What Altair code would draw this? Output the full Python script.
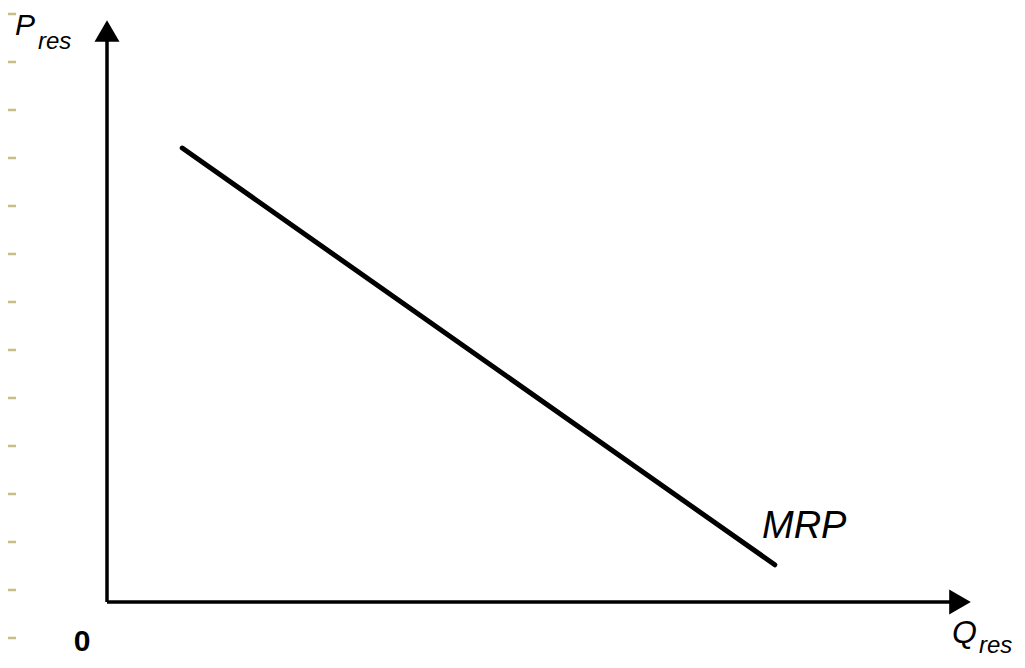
import altair as alt
import pandas as pd

# --- values (data units: origin = 0, arrow tips = 10) ---
mrp_q = [0.87, 7.72]
mrp_p = [7.80, 0.64]

axis_len_x = 9.8
axis_len_y = 9.74

# decorative slide ticks at the left edge (page y positions)
tick_rows = [14, 62, 110, 158, 206, 254, 302, 350, 398, 446, 494, 542, 590, 638]

# --- page layout helpers ---
W, H = 1009, 652
OX, OY = 107, 602          # origin in page px
SX, SY = 86.5, 58.2        # px per data unit


def dx(px):
    return (px - OX) / SX


def dy(py):
    return (OY - py) / SY


xs = alt.Scale(domain=[dx(8), dx(8 + W)], nice=False, zero=False)
ys = alt.Scale(domain=[dy(8 + H), dy(8)], nice=False, zero=False)

X = lambda f: alt.X(f, type="quantitative", scale=xs, axis=None)
Y = lambda f: alt.Y(f, type="quantitative", scale=ys, axis=None)

mrp_df = pd.DataFrame({"q": mrp_q, "p": mrp_p})
mrp = alt.Chart(mrp_df).mark_line(color="black", strokeWidth=5, strokeCap="round").encode(
    x=X("q"), y=Y("p")
)

axes_df = pd.DataFrame({
    "x1": [0, 0], "y1": [0, 0],
    "x2": [axis_len_x, 0], "y2": [0, axis_len_y],
})
axes = alt.Chart(axes_df).mark_rule(color="black", strokeWidth=3.5).encode(
    x=X("x1"), y=Y("y1"), x2="x2", y2="y2"
)

arrows_df = pd.DataFrame({
    "x": [0, 10 - 12 / SX],
    "y": [10 - 11 / SY, 0],
    "shape": ["triangle-up", "triangle-right"],
})
arrows = alt.Chart(arrows_df).mark_point(filled=True, color="black", opacity=1, size=625).encode(
    x=X("x"), y=Y("y"), shape=alt.Shape("shape:N", scale=None, legend=None)
)

ticks_df = pd.DataFrame({
    "x1": [dx(8)] * len(tick_rows),
    "x2": [dx(16)] * len(tick_rows),
    "y": [dy(r) for r in tick_rows],
})
ticks = alt.Chart(ticks_df).mark_rule(color="#c9bd86", strokeWidth=2.5).encode(
    x=X("x1"), x2="x2", y=Y("y")
)

labels_df = pd.DataFrame([
    {"t": "P", "x": dx(15), "y": dy(35), "size": 30},
    {"t": "res", "x": dx(38), "y": dy(49), "size": 24},
    {"t": "Q", "x": dx(952), "y": dy(643), "size": 32},
    {"t": "res", "x": dx(979), "y": dy(653), "size": 24},
    {"t": "MRP", "x": dx(762), "y": dy(538), "size": 38},
])
labels = alt.Chart(labels_df).mark_text(
    font="Liberation Sans", fontStyle="italic", align="left", baseline="alphabetic", color="black"
).encode(
    x=X("x"), y=Y("y"), text="t:N", size=alt.Size("size:Q", scale=None, legend=None)
)

zero_df = pd.DataFrame({"t": ["0"], "x": [dx(82)], "y": [dy(651)]})
zero = alt.Chart(zero_df).mark_text(
    font="Liberation Sans", fontSize=30, fontWeight="bold", align="center",
    baseline="alphabetic", color="black"
).encode(x=X("x"), y=Y("y"), text="t:N")

chart = alt.layer(ticks, axes, arrows, mrp, labels, zero).properties(
    width=W, height=H, padding=0, autosize=alt.AutoSizeParams(type="none"),
    background="white"
).configure_view(stroke=None)

chart.save("out.html", embed_options={"renderer": "svg", "actions": False})
